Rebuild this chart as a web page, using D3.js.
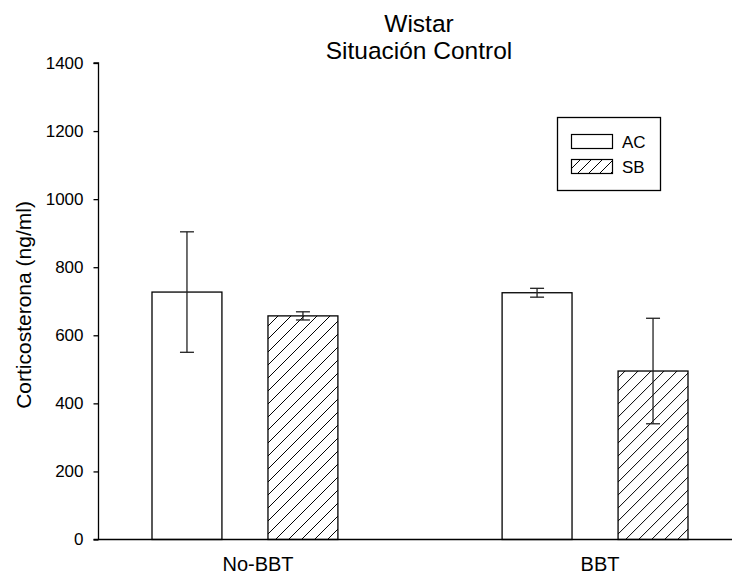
<!DOCTYPE html>
<html>
<head>
<meta charset="utf-8">
<script src="https://cdn.jsdelivr.net/npm/d3@7"></script>
<style>
  html, body { margin: 0; padding: 0; background: #fff; }
  text { font-family: "Liberation Sans", Arial, sans-serif; fill: #000; }
</style>
</head>
<body>
<svg id="chart" width="732" height="575"></svg>
<script>
const categories = ["No-BBT", "BBT"];
const seriesNames = ["AC", "SB"];
const acValues = [727, 725];
const acErrors = [177, 13];
const sbValues = [657, 495];
const sbErrors = [12, 155];
const yTicks = [0, 200, 400, 600, 800, 1000, 1200, 1400];
const titleLines = ["Wistar", "Situación Control"];
const yLabel = "Corticosterona (ng/ml)";

const data = categories.map((c, i) => ({
  cat: c,
  bars: [
    { s: "AC", v: acValues[i], e: acErrors[i] },
    { s: "SB", v: sbValues[i], e: sbErrors[i] }
  ]
}));

const svg = d3.select("#chart");

const defs = svg.append("defs");
defs.append("pattern")
  .attr("id", "hatch")
  .attr("patternUnits", "userSpaceOnUse")
  .attr("width", 13).attr("height", 13)
  .append("path")
  .attr("d", "M0,13 L13,0 M-3,3 L3,-3 M10,16 L16,10")
  .attr("stroke", "#000").attr("stroke-width", 1).attr("fill", "none");
defs.append("pattern")
  .attr("id", "hatchLegend")
  .attr("patternUnits", "userSpaceOnUse")
  .attr("width", 11).attr("height", 11)
  .append("path")
  .attr("d", "M0,11 L11,0 M-3,3 L3,-3 M8,14 L14,8")
  .attr("stroke", "#000").attr("stroke-width", 1).attr("fill", "none");

const axisLeftX = 98.5;
const axisRightX = 732;
const y = d3.scaleLinear().domain([0, 1400]).range([539.5, 63]);

const x0 = d3.scaleBand().domain(categories).range([152, 688]).paddingInner(0.469).paddingOuter(0);
const x1 = d3.scaleBand().domain(seriesNames).range([0, x0.bandwidth()]).paddingInner(0.397).paddingOuter(0);
const xLabel = d3.scalePoint().domain(categories).range([258, 600]);

const fills = { AC: "#fff", SB: "url(#hatch)" };

// bars
const groups = svg.append("g").selectAll("g").data(data).join("g")
  .attr("transform", d => `translate(${x0(d.cat)},0)`);

groups.selectAll("rect").data(d => d.bars).join("rect")
  .attr("x", d => x1(d.s))
  .attr("y", d => y(d.v))
  .attr("width", x1.bandwidth())
  .attr("height", d => y(0) - y(d.v))
  .attr("fill", d => fills[d.s])
  .attr("stroke", "#000").attr("stroke-width", 1.3);

// error bars
const capW = 7;
const eb = groups.selectAll("g.eb").data(d => d.bars).join("g").attr("class", "eb");
eb.append("line")
  .attr("x1", d => x1(d.s) + x1.bandwidth() / 2)
  .attr("x2", d => x1(d.s) + x1.bandwidth() / 2)
  .attr("y1", d => y(d.v + d.e)).attr("y2", d => y(d.v - d.e))
  .attr("stroke", "#222").attr("stroke-width", 1.3);
eb.selectAll("line.cap").data(d => [[d, d.v + d.e], [d, d.v - d.e]]).join("line")
  .attr("class", "cap")
  .attr("x1", d => x1(d[0].s) + x1.bandwidth() / 2 - capW)
  .attr("x2", d => x1(d[0].s) + x1.bandwidth() / 2 + capW)
  .attr("y1", d => y(d[1])).attr("y2", d => y(d[1]))
  .attr("stroke", "#222").attr("stroke-width", 1.3);

// y axis
const yAxis = d3.axisLeft(y).tickValues(yTicks).tickSize(5).tickPadding(10).tickFormat(d3.format("d"));
const gy = svg.append("g").attr("transform", `translate(${axisLeftX},0)`).call(yAxis);
gy.select(".domain").attr("d", `M-5,${y(1400)}H0V${y(0)}`).attr("stroke", "#000").attr("stroke-width", 1.3);
gy.selectAll(".tick line").attr("stroke", "#000").attr("stroke-width", 1.3);
gy.selectAll(".tick text").style("font-size", "17px").style("font-family", "Liberation Sans, Arial, sans-serif").attr("fill", "#000");

// x axis line
svg.append("line")
  .attr("x1", axisLeftX - 5).attr("x2", axisRightX)
  .attr("y1", y(0)).attr("y2", y(0))
  .attr("stroke", "#000").attr("stroke-width", 1.3);

// x labels
svg.append("g").selectAll("text").data(categories).join("text")
  .attr("x", d => xLabel(d))
  .attr("y", 571)
  .attr("text-anchor", "middle")
  .style("font-size", "20px")
  .text(d => d);

// title
svg.append("g").selectAll("text").data(titleLines).join("text")
  .attr("x", 419)
  .attr("y", (d, i) => 32 + i * 27)
  .attr("text-anchor", "middle")
  .style("font-size", "24.5px")
  .text(d => d);

// y label
svg.append("text")
  .attr("transform", "translate(31,305) rotate(-90)")
  .attr("text-anchor", "middle")
  .style("font-size", "21px")
  .text(yLabel);

// legend
const lg = svg.append("g");
lg.append("rect").attr("x", 557.5).attr("y", 117.5).attr("width", 103).attr("height", 73)
  .attr("fill", "#fff").attr("stroke", "#000").attr("stroke-width", 1.3);
const items = lg.selectAll("g.item").data(seriesNames).join("g").attr("class", "item")
  .attr("transform", (d, i) => `translate(0,${i * 25})`);
items.append("rect").attr("x", 571.5).attr("y", 134.5).attr("width", 41).attr("height", 14)
  .attr("fill", d => d === "SB" ? "url(#hatchLegend)" : "#fff")
  .attr("stroke", "#000").attr("stroke-width", 1.2);
items.append("text").attr("x", 622).attr("y", 148).style("font-size", "17px").text(d => d);
</script>
</body>
</html>
